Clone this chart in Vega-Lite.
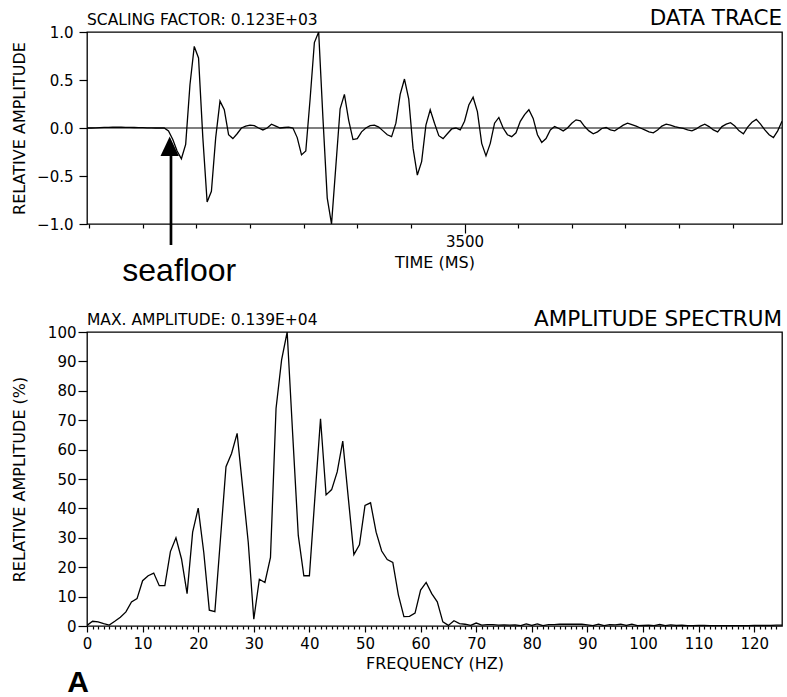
{
  "$schema": "https://vega.github.io/schema/vega-lite/v6.json",
  "background": "white",
  "padding": {"left": 10, "top": 7, "right": 0, "bottom": 0},
  "spacing": 108,
  "bounds": "flush",
  "config": {
    "font": "DejaVu Sans",
    "view": {"stroke": "black", "strokeWidth": 1.3},
    "axis": {
      "grid": false, "domain": false,
      "labelFont": "DejaVu Sans", "titleFont": "DejaVu Sans",
      "labelColor": "black", "titleColor": "black", "tickColor": "black",
      "labelFontSize": 15, "titleFontSize": 16, "titleFontWeight": "normal",
      "tickWidth": 1.2, "labelFlush": false, "labelOverlap": false
    }
  },
  "datasets": {
    "trace": [
      {"t":3148,"a":0},{"t":3152,"a":0},{"t":3156,"a":0.002},{"t":3160,"a":0.004},{"t":3164,"a":0.006},{"t":3168,"a":0.007},{"t":3172,"a":0.008},{"t":3176,"a":0.008},{"t":3180,"a":0.008},{"t":3184,"a":0.007},
      {"t":3188,"a":0.006},{"t":3192,"a":0.005},{"t":3196,"a":0.004},{"t":3200,"a":0.003},{"t":3204,"a":0.002},{"t":3208,"a":0.001},{"t":3212,"a":0},{"t":3216,"a":0},{"t":3220,"a":0},{"t":3224,"a":-0.03},
      {"t":3228,"a":-0.12},{"t":3232,"a":-0.24},{"t":3236,"a":-0.32},{"t":3240,"a":-0.17},{"t":3244,"a":0.45},{"t":3248,"a":0.85},{"t":3252,"a":0.73},{"t":3256,"a":-0.1},{"t":3260,"a":-0.77},{"t":3264,"a":-0.66},
      {"t":3268,"a":-0.1},{"t":3272,"a":0.28},{"t":3276,"a":0.19},{"t":3280,"a":-0.07},{"t":3284,"a":-0.11},{"t":3288,"a":-0.06},{"t":3292,"a":0},{"t":3296,"a":0.02},{"t":3300,"a":0.03},{"t":3304,"a":0.025},
      {"t":3308,"a":0},{"t":3312,"a":-0.02},{"t":3316,"a":0},{"t":3320,"a":0.04},{"t":3324,"a":0.02},{"t":3328,"a":0},{"t":3332,"a":0.005},{"t":3336,"a":0.01},{"t":3340,"a":0},{"t":3344,"a":-0.1},
      {"t":3348,"a":-0.28},{"t":3352,"a":-0.24},{"t":3356,"a":0.3},{"t":3360,"a":0.89},{"t":3364,"a":1.0},{"t":3368,"a":0.1},{"t":3372,"a":-0.73},{"t":3376,"a":-1.0},{"t":3380,"a":-0.4},{"t":3384,"a":0.2},
      {"t":3388,"a":0.35},{"t":3392,"a":0.08},{"t":3396,"a":-0.12},{"t":3400,"a":-0.11},{"t":3404,"a":-0.04},{"t":3408,"a":0},{"t":3412,"a":0.025},{"t":3416,"a":0.03},{"t":3420,"a":0.01},{"t":3424,"a":-0.03},
      {"t":3428,"a":-0.07},{"t":3432,"a":-0.09},{"t":3436,"a":0.05},{"t":3440,"a":0.35},{"t":3444,"a":0.51},{"t":3448,"a":0.3},{"t":3452,"a":-0.21},{"t":3456,"a":-0.49},{"t":3460,"a":-0.35},{"t":3464,"a":0.03},
      {"t":3468,"a":0.19},{"t":3472,"a":0.05},{"t":3476,"a":-0.08},{"t":3480,"a":-0.11},{"t":3484,"a":-0.06},{"t":3488,"a":-0.01},{"t":3492,"a":0},{"t":3496,"a":-0.02},{"t":3500,"a":0.07},{"t":3504,"a":0.24},
      {"t":3508,"a":0.32},{"t":3512,"a":0.17},{"t":3516,"a":-0.16},{"t":3520,"a":-0.29},{"t":3524,"a":-0.16},{"t":3528,"a":0.05},{"t":3532,"a":0.11},{"t":3536,"a":0},{"t":3540,"a":-0.07},{"t":3544,"a":-0.09},
      {"t":3548,"a":-0.05},{"t":3552,"a":0.07},{"t":3556,"a":0.14},{"t":3560,"a":0.19},{"t":3564,"a":0.1},{"t":3568,"a":-0.07},{"t":3572,"a":-0.15},{"t":3576,"a":-0.11},{"t":3580,"a":-0.02},{"t":3584,"a":0.015},
      {"t":3588,"a":-0.005},{"t":3592,"a":-0.03},{"t":3596,"a":0},{"t":3600,"a":0.05},{"t":3604,"a":0.085},{"t":3608,"a":0.075},{"t":3612,"a":0.015},{"t":3616,"a":-0.03},{"t":3620,"a":-0.06},{"t":3624,"a":-0.04},
      {"t":3628,"a":-0.005},{"t":3632,"a":0.005},{"t":3636,"a":-0.02},{"t":3640,"a":-0.03},{"t":3644,"a":0},{"t":3648,"a":0.03},{"t":3652,"a":0.05},{"t":3656,"a":0.035},{"t":3660,"a":0.02},{"t":3664,"a":0},
      {"t":3668,"a":-0.02},{"t":3672,"a":-0.04},{"t":3676,"a":-0.05},{"t":3680,"a":-0.02},{"t":3684,"a":0.02},{"t":3688,"a":0.04},{"t":3692,"a":0.03},{"t":3696,"a":0.015},{"t":3700,"a":0.005},{"t":3704,"a":-0.005},
      {"t":3708,"a":-0.02},{"t":3712,"a":-0.03},{"t":3716,"a":-0.01},{"t":3720,"a":0.02},{"t":3724,"a":0.04},{"t":3728,"a":0.015},{"t":3732,"a":-0.02},{"t":3736,"a":-0.04},{"t":3740,"a":0.015},{"t":3744,"a":0.04},
      {"t":3748,"a":0.055},{"t":3752,"a":0.02},{"t":3756,"a":-0.03},{"t":3760,"a":-0.06},{"t":3764,"a":0.01},{"t":3768,"a":0.06},{"t":3772,"a":0.09},{"t":3776,"a":0.04},{"t":3780,"a":-0.02},{"t":3784,"a":-0.07},
      {"t":3788,"a":-0.1},{"t":3792,"a":-0.03},{"t":3796,"a":0.07}
    ],
    "spectrum": [
      {"f":0,"p":0.2},{"f":1,"p":1.6},{"f":2,"p":1.4},{"f":3,"p":0.8},{"f":4,"p":0.3},{"f":5,"p":1.6},{"f":6,"p":3.0},{"f":7,"p":4.8},{"f":8,"p":8.2},{"f":9,"p":9.3},
      {"f":10,"p":15.4},{"f":11,"p":17.1},{"f":12,"p":18.0},{"f":13,"p":13.7},{"f":14,"p":13.7},{"f":15,"p":25.3},{"f":16,"p":30.0},{"f":17,"p":22.8},{"f":18,"p":11.0},{"f":19,"p":31.9},
      {"f":20,"p":40.1},{"f":21,"p":25.1},{"f":22,"p":5.4},{"f":23,"p":4.9},{"f":24,"p":29.5},{"f":25,"p":54.2},{"f":26,"p":58.7},{"f":27,"p":65.5},{"f":28,"p":47},{"f":29,"p":28.5},
      {"f":30,"p":2.3},{"f":31,"p":15.9},{"f":32,"p":14.8},{"f":33,"p":23.3},{"f":34,"p":74},{"f":35,"p":90.5},{"f":36,"p":100},{"f":37,"p":65},{"f":38,"p":30.8},{"f":39,"p":17.1},
      {"f":40,"p":17.1},{"f":41,"p":44},{"f":42,"p":70.5},{"f":43,"p":44.6},{"f":44,"p":46.4},{"f":45,"p":52.4},{"f":46,"p":62.9},{"f":47,"p":43.5},{"f":48,"p":24.3},{"f":49,"p":27.6},
      {"f":50,"p":41},{"f":51,"p":41.9},{"f":52,"p":31.9},{"f":53,"p":25.5},{"f":54,"p":22.6},{"f":55,"p":21.6},{"f":56,"p":10.6},{"f":57,"p":3.2},{"f":58,"p":3.3},{"f":59,"p":4.4},
      {"f":60,"p":12.2},{"f":61,"p":14.8},{"f":62,"p":11},{"f":63,"p":8.2},{"f":64,"p":1.4},{"f":65,"p":0.2},{"f":66,"p":1.8},{"f":67,"p":0.8},{"f":68,"p":0.6},{"f":69,"p":0.2},
      {"f":70,"p":1.0},{"f":71,"p":0.3},{"f":72,"p":0.5},{"f":73,"p":0.5},{"f":74,"p":0.3},{"f":75,"p":0.4},{"f":76,"p":0.3},{"f":77,"p":0.4},{"f":78,"p":0.1},{"f":79,"p":0.7},
      {"f":80,"p":0.2},{"f":81,"p":0.7},{"f":82,"p":0.1},{"f":83,"p":0.5},{"f":84,"p":0.5},{"f":85,"p":0.6},{"f":86,"p":0.6},{"f":87,"p":0.6},{"f":88,"p":0.6},{"f":89,"p":0.6},
      {"f":90,"p":0.4},{"f":91,"p":0.1},{"f":92,"p":0.6},{"f":93,"p":0.1},{"f":94,"p":0.5},{"f":95,"p":0.4},{"f":96,"p":0.6},{"f":97,"p":0.2},{"f":98,"p":0.6},{"f":99,"p":0.1},
      {"f":100,"p":0.2},{"f":101,"p":0.3},{"f":102,"p":0.1},{"f":103,"p":0.5},{"f":104,"p":0.1},{"f":105,"p":0.4},{"f":106,"p":0.2},{"f":107,"p":0.3},{"f":108,"p":0.1},{"f":109,"p":0.1},
      {"f":110,"p":0.2},{"f":111,"p":0.2},{"f":112,"p":0.1},{"f":113,"p":0.1},{"f":114,"p":0.1},{"f":115,"p":0.1},{"f":116,"p":0.1},{"f":117,"p":0.1},{"f":118,"p":0.1},{"f":119,"p":0.1},
      {"f":120,"p":0.2},{"f":121,"p":0.2},{"f":122,"p":0.2},{"f":123,"p":0.2},{"f":124,"p":0.3},{"f":125,"p":0.3}
    ]
  },
  "vconcat": [
    {
      "width": 695, "height": 192,
      "resolve": {"axis": {"x": "independent", "y": "independent"}},
      "layer": [
        {
          "data": {"name": "trace"},
          "mark": {"type": "line", "color": "black", "strokeWidth": 1.3, "clip": true},
          "encoding": {
            "x": {"field": "t", "type": "quantitative",
              "scale": {"domain": [3148, 3796], "nice": false, "zero": false},
              "axis": {"title": "TIME (MS)", "orient": "bottom",
                "values": [3150,3200,3250,3300,3350,3400,3450,3500,3550,3600,3650,3700,3750],
                "labelExpr": "datum.value == 3500 ? '3500' : ''",
                "tickSize": {"condition": {"test": "datum.value == 3500", "value": 9}, "value": 4},
                "labelPadding": 13, "labelBaseline": "alphabetic", "labelOverlap": false,
                "titleY": 43, "titleBaseline": "alphabetic"}},
            "y": {"field": "a", "type": "quantitative",
              "scale": {"domain": [-1, 1], "nice": false},
              "axis": {"title": "RELATIVE AMPLITUDE", "orient": "left", "values": [-1, -0.5, 0, 0.5, 1], "format": ".1f",
                "tickSize": 8, "labelPadding": 6, "labelOverlap": false, "titleX": -63, "titleBaseline": "alphabetic"}}
          }
        },
        {
          "data": {"values": [{}]},
          "mark": {"type": "rule", "color": "black", "strokeWidth": 1.1},
          "encoding": {"y": {"datum": 0, "type": "quantitative", "axis": null}}
        },
        {
          "data": {"values": [{}]},
          "mark": {"type": "text", "text": "SCALING FACTOR: 0.123E+03", "align": "left", "baseline": "alphabetic", "dy": -7, "fontSize": 15.5, "font": "DejaVu Sans", "color": "black"},
          "encoding": {"x": {"datum": 3148, "type": "quantitative", "axis": null}, "y": {"datum": 1, "type": "quantitative", "axis": null}}
        },
        {
          "data": {"values": [{}]},
          "mark": {"type": "text", "text": "DATA TRACE", "align": "right", "baseline": "alphabetic", "dy": -7, "fontSize": 21.5, "font": "DejaVu Sans", "color": "black"},
          "encoding": {"x": {"datum": 3796, "type": "quantitative", "axis": null}, "y": {"datum": 1, "type": "quantitative", "axis": null}}
        },
        {
          "data": {"values": [{}]},
          "mark": {"type": "text", "text": "seafloor", "align": "center", "baseline": "alphabetic", "fontSize": 32, "font": "Liberation Sans", "color": "black"},
          "encoding": {"x": {"datum": 3234, "type": "quantitative", "axis": null}, "y": {"datum": -1.594, "type": "quantitative", "axis": null}}
        },
        {
          "data": {"values": [{}]},
          "mark": {"type": "rule", "color": "black", "strokeWidth": 2.7},
          "encoding": {"x": {"datum": 3226.3, "type": "quantitative", "axis": null},
            "y": {"datum": -1.219, "type": "quantitative", "axis": null},
            "y2": {"datum": -0.28}}
        },
        {
          "data": {"values": [{}]},
          "mark": {"type": "point", "shape": "M0,-1L-0.95,1L0.95,1Z", "filled": true, "color": "black", "opacity": 1, "size": 372},
          "encoding": {"x": {"datum": 3225.1, "type": "quantitative", "axis": null}, "y": {"datum": -0.19, "type": "quantitative", "axis": null}}
        }
      ]
    },
    {
      "width": 695, "height": 294,
      "resolve": {"axis": {"x": "independent", "y": "independent"}},
      "layer": [
        {
          "data": {"name": "spectrum"},
          "mark": {"type": "line", "color": "black", "strokeWidth": 1.3, "clip": true},
          "encoding": {
            "x": {"field": "f", "type": "quantitative",
              "scale": {"domain": [0, 125], "nice": false},
              "axis": {"title": "FREQUENCY (HZ)", "orient": "bottom",
                "values": [0,1,2,3,4,5,6,7,8,9,10,11,12,13,14,15,16,17,18,19,20,21,22,23,24,25,26,27,28,29,30,31,32,33,34,35,36,37,38,39,40,41,42,43,44,45,46,47,48,49,50,51,52,53,54,55,56,57,58,59,60,61,62,63,64,65,66,67,68,69,70,71,72,73,74,75,76,77,78,79,80,81,82,83,84,85,86,87,88,89,90,91,92,93,94,95,96,97,98,99,100,101,102,103,104,105,106,107,108,109,110,111,112,113,114,115,116,117,118,119,120,121,122,123,124],
                "labelExpr": "datum.value % 10 == 0 ? datum.label : ''",
                "tickSize": {"condition": {"test": "datum.value % 10 == 0", "value": 6}, "value": 3},
                "labelPadding": 16, "labelBaseline": "alphabetic", "labelOverlap": false,
                "titleY": 42, "titleBaseline": "alphabetic"}},
            "y": {"field": "p", "type": "quantitative",
              "scale": {"domain": [0, 100], "nice": false},
              "axis": {"title": "RELATIVE AMPLITUDE (%)", "orient": "left", "values": [0,10,20,30,40,50,60,70,80,90,100],
                "tickSize": 9, "labelPadding": 2, "labelOverlap": false, "titleX": -63, "titleBaseline": "alphabetic"}}
          }
        },
        {
          "data": {"values": [{}]},
          "mark": {"type": "text", "text": "MAX. AMPLITUDE: 0.139E+04", "align": "left", "baseline": "alphabetic", "dy": -7, "fontSize": 15.5, "font": "DejaVu Sans", "color": "black"},
          "encoding": {"x": {"datum": 0, "type": "quantitative", "axis": null}, "y": {"datum": 100, "type": "quantitative", "axis": null}}
        },
        {
          "data": {"values": [{}]},
          "mark": {"type": "text", "text": "AMPLITUDE SPECTRUM", "align": "right", "baseline": "alphabetic", "dy": -6, "fontSize": 21.5, "font": "DejaVu Sans", "color": "black"},
          "encoding": {"x": {"datum": 125, "type": "quantitative", "axis": null}, "y": {"datum": 100, "type": "quantitative", "axis": null}}
        },
        {
          "data": {"values": [{}]},
          "mark": {"type": "text", "text": "A", "align": "center", "baseline": "alphabetic", "fontSize": 30, "fontWeight": "bold", "font": "Liberation Sans", "color": "black"},
          "encoding": {"x": {"datum": -1.6, "type": "quantitative", "axis": null}, "y": {"datum": -22.5, "type": "quantitative", "axis": null}}
        }
      ]
    }
  ]
}
